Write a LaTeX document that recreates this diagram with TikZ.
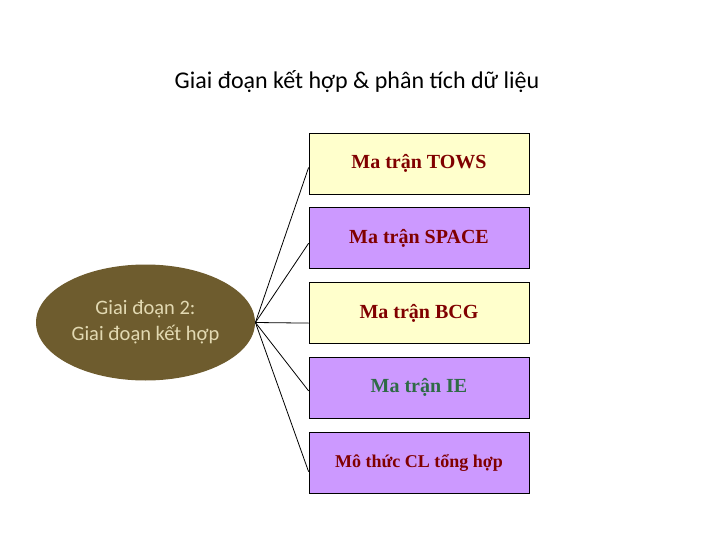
\documentclass[tikz,border=0pt]{standalone}
\usepackage{fontspec}
\setmainfont{Liberation Serif}
\newfontfamily\calfont{Carlito}
\usetikzlibrary{positioning,shapes.geometric}
\definecolor{paleyellow}{HTML}{FFFFCC}
\definecolor{lilac}{HTML}{CC99FF}
\definecolor{olivebrown}{HTML}{6E5C2E}
\definecolor{tan}{HTML}{E2D9B2}
\definecolor{darkred}{HTML}{800000}
\definecolor{darkgreen}{HTML}{2F6B46}

\begin{document}
\begin{tikzpicture}[x=1pt,y=-1pt,node distance=13pt,line width=0.8pt,
box/.style={draw,minimum width=220pt,minimum height=61pt,inner sep=0pt,
  font=\bfseries\fontsize{20}{24}\selectfont,text=darkred},
yellowbox/.style={box,fill=paleyellow},
lilacbox/.style={box,fill=lilac}]
\useasboundingbox (0,0) rectangle (720,540);
\node[font=\calfont\fontsize{24}{28}\selectfont] (title) at (357,82) {Giai đoạn kết hợp \& phân tích dữ liệu};
\node[ellipse,fill=olivebrown,minimum width=219pt,minimum height=116pt,inner sep=0pt,
  align=center,text=tan,font=\calfont\fontsize{20.5}{26}\selectfont] (stage) at (145.5,322.5)
  {Giai đoạn 2:\\Giai đoạn kết hợp};
\node[yellowbox] (tows) at (419,163.5) {Ma trận TOWS};
\node[lilacbox,below=of tows] (space) {Ma trận SPACE};
\node[yellowbox,below=of space] (bcg) {Ma trận BCG};
\node[lilacbox,below=of bcg,text=darkgreen] (ie) {Ma trận IE};
\node[lilacbox,below=of ie,font=\bfseries\fontsize{18}{22}\selectfont] (cl) {Mô thức CL tổng hợp};
\draw (stage.east) -- ([yshift=-4pt]tows.west);
\draw (stage.east) -- ([yshift=-5pt]space.west);
\draw (stage.east) -- ([yshift=-10pt]bcg.west);
\draw (stage.east) -- ([yshift=-3pt]ie.west);
\draw (stage.east) -- ([yshift=-9pt]cl.west);
\end{tikzpicture}
\end{document}
